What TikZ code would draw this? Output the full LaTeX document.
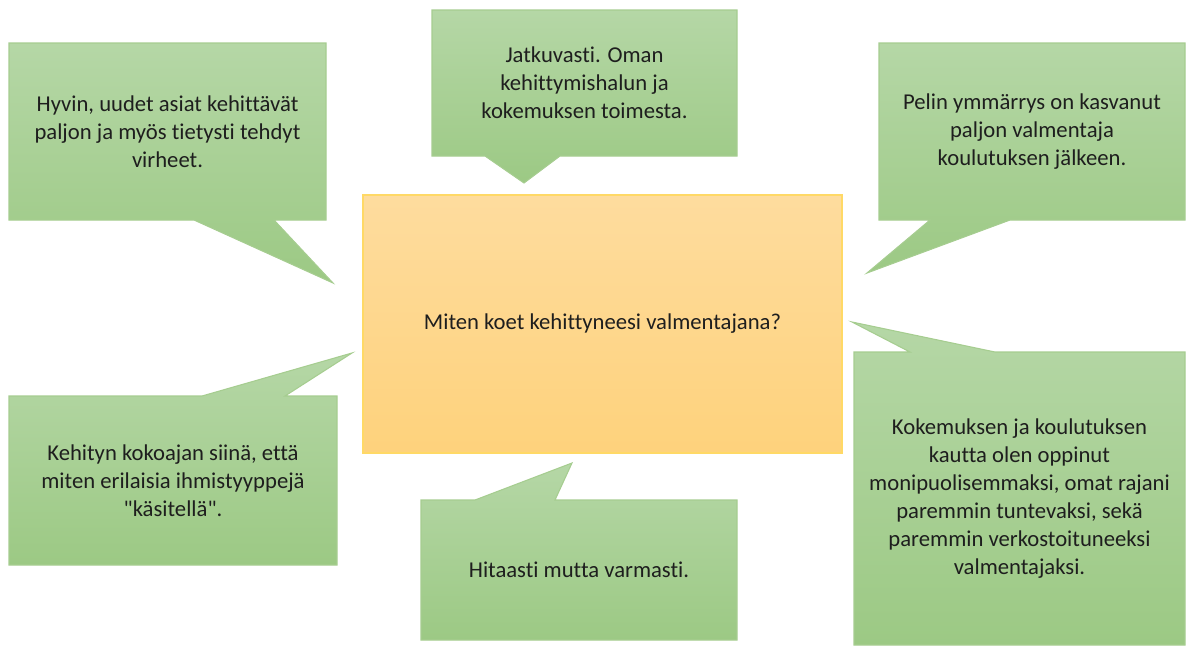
\documentclass[tikz,border=0pt]{standalone}
\usepackage{fontspec}
\setmainfont{Carlito}[Ligatures={NoCommon,TeXOff}]
\usetikzlibrary{positioning}
\definecolor{leafTop}{HTML}{B5D7A6}
\definecolor{leafBot}{HTML}{9CC984}
\definecolor{leafLine}{HTML}{A6CD90}
\definecolor{sunTop}{HTML}{FEDC9E}
\definecolor{sunBot}{HTML}{FED27C}
\definecolor{sunLine}{HTML}{FFD966}
\definecolor{ink}{HTML}{1E1E1E}

\begin{document}
\begin{tikzpicture}[x=0.75pt, y=-0.75pt,
  bubble/.style={draw=leafLine, line width=0.8pt, top color=leafTop, bottom color=leafBot},
  core/.style={draw=sunLine, line width=1pt, top color=sunTop, bottom color=sunBot,
    minimum width=359.25pt, minimum height=193.5pt},
  say/.style={align=center, text=ink, font=\fontsize{17}{21}\selectfont, inner sep=0pt}
]
\useasboundingbox (0,0) rectangle (1190,646);

% central question
\node[core, say] (question) at (602.5,324) {Miten koet kehittyneesi valmentajana?};

% callouts with pointer under the box
\draw[bubble] (9,43) -- (326,43) -- (326,220) -- (274,220) -- (333,283) -- (194,220) -- (9,220) -- cycle;
\node[say] (hyvin) at (167.5,131.5) {Hyvin, uudet asiat kehittävät\\paljon ja myös tietysti tehdyt\\virheet.};

\draw[bubble] (432,10) -- (737,10) -- (737,156) -- (560,156) -- (524,183) -- (485,156) -- (432,156) -- cycle;
\node[say] (jatkuvasti) at (584.5,83) {Jatkuvasti. Oman\\kehittymishalun ja\\kokemuksen toimesta.};

\draw[bubble] (879,43) -- (1185,43) -- (1185,220) -- (1010,220) -- (867,273) -- (930,220) -- (879,220) -- cycle;
\node[say] (pelin) at (1032,131.5) {Pelin ymmärrys on kasvanut\\paljon valmentaja\\koulutuksen jälkeen.};

% callouts with pointer above the box
\draw[bubble] (9,396) -- (202,396) -- (352,353) -- (285,396) -- (337,396) -- (337,565) -- (9,565) -- cycle;
\node[say] (kehityn) at (173,480.5) {Kehityn kokoajan siinä, että\\miten erilaisia ihmistyyppejä\\"käsitellä".};

\draw[bubble] (421,500) -- (475,500) -- (572,463) -- (555,500) -- (737,500) -- (737,640) -- (421,640) -- cycle;
\node[say] (hitaasti) at (579,570) {Hitaasti mutta varmasti.};

\draw[bubble] (854,352) -- (910,352) -- (852,322) -- (995,352) -- (1185,352) -- (1185,645) -- (854,645) -- cycle;
\node[say] (kokemus) at (1019.5,498.5) {Kokemuksen ja koulutuksen\\kautta olen oppinut\\monipuolisemmaksi, omat rajani\\paremmin tuntevaksi, sekä\\paremmin verkostoituneeksi\\valmentajaksi.};
\end{tikzpicture}
\end{document}
